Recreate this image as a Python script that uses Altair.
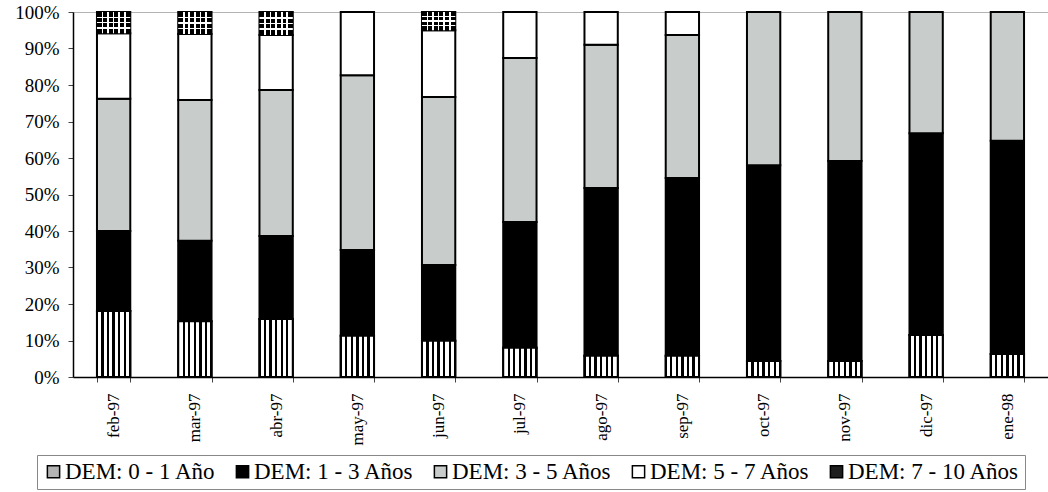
import altair as alt
import pandas as pd

months = ["feb-97", "mar-97", "abr-97", "may-97", "jun-97", "jul-97",
          "ago-97", "sep-97", "oct-97", "nov-97", "dic-97", "ene-98"]
series = ["DEM: 0 - 1 Año", "DEM: 1 - 3 Años", "DEM: 3 - 5 Años",
          "DEM: 5 - 7 Años", "DEM: 7 - 10 Años"]

dem_0_1 = [18.1, 15.3, 15.9, 11.3, 9.9, 8.0, 5.8, 5.8, 4.4, 4.4, 11.5, 6.3]
dem_1_3 = [21.9, 22.0, 22.7, 23.5, 20.8, 34.5, 46.0, 48.7, 53.6, 54.8, 55.3, 58.4]
dem_3_5 = [36.2, 38.6, 40.0, 47.9, 46.0, 44.9, 39.2, 39.2, 42.0, 40.8, 33.2, 35.3]
dem_5_7 = [18.0, 18.1, 15.1, 17.3, 18.3, 12.6, 9.0, 6.3, 0.0, 0.0, 0.0, 0.0]
dem_7_10 = [5.8, 6.0, 6.3, 0.0, 5.0, 0.0, 0.0, 0.0, 0.0, 0.0, 0.0, 0.0]

all_vals = [dem_0_1, dem_1_3, dem_3_5, dem_5_7, dem_7_10]

rows = []
for i, m in enumerate(months):
    start = 0.0
    for s, vals in zip(series, all_vals):
        v = vals[i] / 100.0
        if v > 0:
            rows.append({"mes": m, "serie": s, "y0": start, "y1": start + v})
        start += v
df = pd.DataFrame(rows)

FONT = "Liberation Serif, 'Times New Roman', 'DejaVu Serif', serif"

# pattern gradients (style only)
def stripes(n, line, bg, half, horizontal=False, edges=True):
    stops = []
    ks = range(0, n + 1) if edges else range(1, n)
    pos = [k / n for k in ks]
    stops.append({"offset": 0, "color": bg})
    for c in pos:
        a = max(0.0, c - half)
        b = min(1.0, c + half)
        stops.append({"offset": a, "color": bg})
        stops.append({"offset": a, "color": line})
        stops.append({"offset": b, "color": line})
        stops.append({"offset": b, "color": bg})
    stops.append({"offset": 1, "color": bg})
    g = {"gradient": "linear", "stops": stops}
    if horizontal:
        g.update({"x1": 0, "x2": 0, "y1": 0, "y2": 1})
    else:
        g.update({"x1": 0, "x2": 1, "y1": 0, "y2": 0})
    return g

vstripes = stripes(6, "#000000", "#ffffff", 0.035)
checker_v = stripes(6, "#ffffff", "#000000", 0.025, edges=False)
checker_h = stripes(4, "#ffffff", "rgba(255,255,255,0)", 0.035, horizontal=True, edges=False)

xenc = alt.X("mes:N", sort=months, title=None,
             scale=alt.Scale(paddingInner=0.59, paddingOuter=0.295),
             axis=alt.Axis(labelAngle=270, labelFontSize=17, labelColor="black",
                           labelFont=FONT,
                           tickBand="extent", tickSize=5, tickColor="#444",
                           domainColor="black", domainWidth=1.5, labelPadding=11))
yenc = alt.Y("y0:Q", title=None,
             scale=alt.Scale(domain=[0, 1], nice=False),
             axis=alt.Axis(format=".0%", values=[i / 10 for i in range(11)],
                           labelFontSize=19, labelColor="black", labelFont=FONT,
                           tickSize=5,
                           tickColor="#444", domainColor="black", domainWidth=1.5,
                           grid=False, labelPadding=9))
y2enc = alt.Y2("y1:Q")

base = alt.Chart(df).mark_bar(stroke="black", strokeWidth=2).encode(
    x=xenc, y=yenc, y2=y2enc,
    color=alt.Color("serie:N", title=None,
                    scale=alt.Scale(domain=series,
                                    range=["#b4b4b4", "#000000", "#c8cccb", "#ffffff", "#1e1e1e"]),
                    legend=alt.Legend(orient="none", legendX=-36, legendY=443,
                                      direction="horizontal", columns=5,
                                      symbolType="square", symbolSize=150,
                                      symbolStrokeColor="black", symbolStrokeWidth=1.5,
                                      labelFontSize=23, labelColor="black",
                                      labelFont=FONT,
                                      labelLimit=400, columnPadding=15,
                                      labelOffset=0, padding=5,
                                      strokeColor="#888"))
)

over01 = alt.Chart(df).transform_filter(alt.datum.serie == series[0]).mark_bar(
    fill=vstripes, stroke="black", strokeWidth=2).encode(x=xenc, y=yenc, y2=y2enc)

over710a = alt.Chart(df).transform_filter(alt.datum.serie == series[4]).mark_bar(
    fill=checker_v).encode(x=xenc, y=yenc, y2=y2enc)
over710b = alt.Chart(df).transform_filter(alt.datum.serie == series[4]).mark_bar(
    fill=checker_h).encode(x=xenc, y=yenc, y2=y2enc)

chart = alt.layer(base, over01, over710a, over710b).properties(
    width=975, height=365,
    autosize=alt.AutoSizeParams(type="none"),
    padding={"left": 73, "top": 12, "right": 0, "bottom": 115},
).configure(font=FONT).configure_view(
    stroke="#666", strokeDash=[1, 1], strokeWidth=1
)

chart.save("out.html", embed_options={"renderer": "svg", "actions": False})
